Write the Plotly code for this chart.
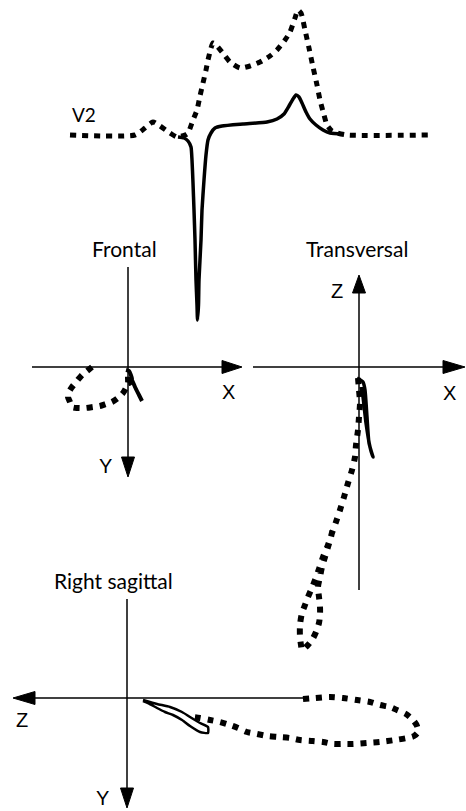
import plotly.graph_objects as go

W, H = 466, 811

# ---- V2 lead: time offset (px) vs amplitude (px, up positive) ----
v2_dot_t = [0, 65, 75, 83, 90, 100, 107, 115, 118, 123, 127, 130, 133, 136, 138, 141, 143, 146,
            152, 160, 170, 180, 190, 200, 207, 215, 220, 225, 228, 231, 235, 239, 243, 247, 250,
            254, 257, 262, 267, 277, 360]
v2_dot_a = [0, 0, 7, 13, 9, 2, -2, 0, 2, 15, 25, 39, 52, 65, 75, 87, 92, 90,
            83, 73, 67, 69, 73, 79, 85, 95, 103, 117, 125, 122, 105, 87, 68, 50, 35,
            20, 10, 4, 2, 0, 0]
v2_sol_t = [108, 114, 118, 121, 122, 123, 124, 125, 126, 127, 127.5, 128.5, 129, 131, 132, 134,
            136, 138, 141, 145, 152, 173, 197, 207, 214, 219, 223, 226, 229, 232, 236, 240,
            246, 253, 260, 273]
v2_sol_a = [-2, -3, -6, -12, -25, -48, -75, -105, -145, -170, -185, -170, -145, -105, -75, -45,
            -20, -5, 2, 7, 9, 11, 13, 16, 21, 29, 36, 40, 38, 32, 23, 16,
            10, 5, 2, 1]

# ---- Frontal plane loop (X right, Y down) ----
fr_dot_x = [-36, -41, -46, -51, -56, -59, -60, -58, -56, -50, -43, -35, -28, -22, -16, -10, -5, -2, 0, 0, 0]
fr_dot_y = [0, 4, 8, 14, 20, 25, 30, 35, 40, 41, 41, 40, 39, 37, 35, 31, 26, 21, 16, 11, 6]
fr_sol_x = [-2, 1, 4, 2, 3, 7, 11, 14]
fr_sol_y = [3, 4, 12, 17, 11, 20, 28, 34]

# ---- Transversal plane loop (X right, Z up) ----
tr_dot_x = [-1, 0, 1, 0, -1, -3, -4, -7, -11, -15, -19, -23, -27, -31, -36, -40, -44, -48, -51,
            -54, -57, -59, -59, -58, -57, -52, -47, -43, -40, -39, -39, -40, -41, -39, -37, -34,
            -31, -28, -26]
tr_dot_z = [-11, -23, -36, -50, -63, -78, -90, -103, -116, -130, -143, -155, -166, -178, -190,
            -202, -213, -223, -230, -238, -246, -258, -270, -278, -283, -279, -273, -265, -256,
            -248, -240, -230, -220, -210, -200, -190, -180, -170, -160]
tr_sol_x = [-2, 4, 6, 8, 10, 14, 11, 7, 4, 2]
tr_sol_z = [-11, -15, -23, -50, -76, -90, -80, -56, -30, -20]

# ---- Right sagittal plane loop (Z left, Y down) ----
sg_dot_z = [-176, -188, -203, -216, -230, -243, -253, -263, -270, -279, -286, -290, -291, -287,
            -280, -268, -253, -240, -226, -216, -206, -196, -186, -173, -163, -151, -140, -130,
            -120, -111, -103, -93, -83, -73, -66]
sg_dot_y = [1, 0, -1, 0, 2, 4, 7, 9, 12, 16, 22, 28, 34, 38,
            40, 42, 44, 45, 46, 46, 46, 44, 43, 42, 40, 39, 38, 36,
            34, 30, 27, 24, 22, 20, 19]
sg_sol_z = [-16, -30, -43, -55, -63, -73, -81, -81, -73, -63, -55, -46, -38, -30, -21, -16]
sg_sol_y = [2, 6, 9, 14, 19, 25, 29, 35, 34, 28, 22, 17, 14, 10, 5, 3]

# panel origins on the page (px) and axis orientation
panels = {
    "ecg": dict(origin=(70, 135), xflip=False, ydown=False),
    "fr": dict(origin=(128, 367), xflip=False, ydown=True),
    "tr": dict(origin=(359, 367), xflip=False, ydown=False),
    "sg": dict(origin=(127, 698), xflip=True, ydown=True),
}
axis_ids = {"ecg": ("x", "y"), "fr": ("x2", "y2"), "tr": ("x3", "y3"), "sg": ("x4", "y4")}

fig = go.Figure()


def axis_ranges(p):
    ox, oy = p["origin"]
    xr = [ox, ox - W] if p["xflip"] else [-ox, W - ox]
    yr = [H - oy, -oy] if p["ydown"] else [-(H - oy), oy]
    return xr, yr


def add_line(key, xs, ys, width, dash=None, spline=True, smoothing=0.8):
    xa, ya = axis_ids[key]
    line = dict(color="black", width=width)
    if dash:
        line["dash"] = dash
    if spline:
        line["shape"] = "spline"
        line["smoothing"] = smoothing
    fig.add_trace(go.Scatter(x=xs, y=ys, mode="lines", line=line, xaxis=xa, yaxis=ya,
                             hoverinfo="skip", showlegend=False))


def add_arrow_axis(key, start, tip, head_len, half_w):
    xa, ya = axis_ids[key]
    (x0, y0), (x1, y1) = start, tip
    dx, dy = x1 - x0, y1 - y0
    n = (dx * dx + dy * dy) ** 0.5
    ux, uy = dx / n, dy / n
    bx, by = x1 - ux * head_len, y1 - uy * head_len
    fig.add_trace(go.Scatter(x=[x0, bx], y=[y0, by], mode="lines",
                             line=dict(color="black", width=1.5), xaxis=xa, yaxis=ya,
                             hoverinfo="skip", showlegend=False))
    px_, py_ = -uy, ux
    fig.add_trace(go.Scatter(x=[x1, bx + px_ * half_w, bx - px_ * half_w, x1],
                             y=[y1, by + py_ * half_w, by - py_ * half_w, y1],
                             mode="lines", fill="toself", fillcolor="black",
                             line=dict(color="black", width=1), xaxis=xa, yaxis=ya,
                             hoverinfo="skip", showlegend=False))


# V2 tracings
add_line("ecg", v2_dot_t, v2_dot_a, 5, dash="6px,6px", smoothing=0.6)
add_line("ecg", v2_sol_t, v2_sol_a, 3.5, smoothing=0.5)

# Frontal plane
add_arrow_axis("fr", (-96, 0), (114, 0), 20, 6.5)
add_arrow_axis("fr", (0, -100), (0, 110), 20, 6.5)
add_line("fr", fr_dot_x, fr_dot_y, 6, dash="6px,7px")
add_line("fr", fr_sol_x, fr_sol_y, 4, smoothing=0.5)

# Transversal plane
add_arrow_axis("tr", (-106, 0), (106, 0), 22, 6.5)
add_arrow_axis("tr", (0, -223), (0, 92), 18, 6.5)
add_line("tr", tr_dot_x, tr_dot_z, 6, dash="6px,7px")
add_line("tr", tr_sol_x, tr_sol_z, 3.5, smoothing=0.5)

# Right sagittal plane
add_arrow_axis("sg", (-178, 0), (114, 0), 22, 6.5)
add_arrow_axis("sg", (0, -99), (0, 110), 20, 6.5)
add_line("sg", sg_dot_z, sg_dot_y, 6, dash="6px,7px")
add_line("sg", sg_sol_z, sg_sol_y, 2.5, smoothing=0.5)

# axes layout: every panel spans the full page with its own origin and orientation
layout_axes = {}
for i, key in enumerate(["ecg", "fr", "tr", "sg"]):
    xr, yr = axis_ranges(panels[key])
    sfx = "" if i == 0 else str(i + 1)
    xa = dict(range=xr, visible=False, fixedrange=True, domain=[0, 1])
    ya = dict(range=yr, visible=False, fixedrange=True, domain=[0, 1])
    if i > 0:
        xa["overlaying"] = "x"
        ya["overlaying"] = "y"
        xa["anchor"] = "y" + sfx
        ya["anchor"] = "x" + sfx
    layout_axes["xaxis" + sfx] = xa
    layout_axes["yaxis" + sfx] = ya

title_font = dict(family="Lato, Carlito, sans-serif", size=21, color="black")
axis_font = dict(family="Liberation Sans, Arial, sans-serif", size=20, color="black")


def label(text, px, py, font):
    return dict(text=text, x=px / W, y=1 - py / H, xref="paper", yref="paper",
                showarrow=False, xanchor="center", yanchor="middle", font=font)


annotations = [
    label("V2", 84, 114, dict(family="Lato, sans-serif", size=19, color="black")),
    label("Frontal", 125, 249, title_font),
    label("Transversal", 357, 249, title_font),
    label("Right sagittal", 113, 580, title_font),
    label("X", 228, 392, axis_font),
    label("Y", 105, 466, axis_font),
    label("Z", 337, 291, axis_font),
    label("X", 449, 393, axis_font),
    label("Z", 22, 720, axis_font),
    label("Y", 102, 798, axis_font),
]

fig.update_layout(
    width=W, height=H, autosize=False,
    margin=dict(l=0, r=0, t=0, b=0),
    paper_bgcolor="white", plot_bgcolor="rgba(0,0,0,0)",
    showlegend=False, annotations=annotations,
    **layout_axes,
)

fig.write_html("out.html", config={"displayModeBar": False})
